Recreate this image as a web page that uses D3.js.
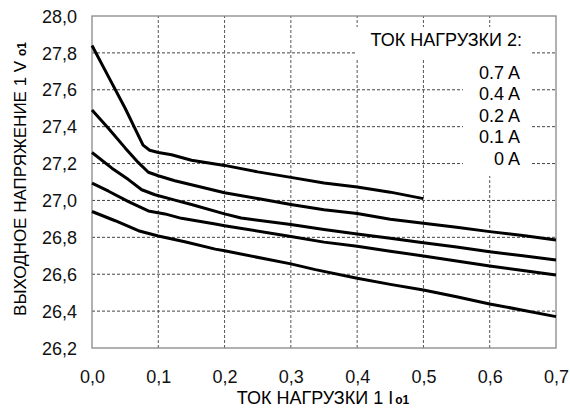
<!DOCTYPE html>
<html>
<head>
<meta charset="utf-8">
<script src="https://cdn.jsdelivr.net/npm/d3@7"></script>
<style>
  body { margin: 0; background: #fff; }
  svg { font-family: "Liberation Sans", Arial, sans-serif; }
</style>
</head>
<body>
<div id="chart"></div>
<script>
// load current 1 (A) vs output voltage (V), one curve per load current 2
var curve07 = [[0,27.84],[0.025,27.67],[0.05,27.5],[0.077,27.3],[0.087,27.272],[0.1,27.26],[0.12,27.248],[0.15,27.218],[0.2,27.19],[0.25,27.155],[0.3,27.125],[0.35,27.095],[0.4,27.073],[0.45,27.045],[0.5,27.01]];
var curve04 = [[0,27.49],[0.025,27.39],[0.05,27.285],[0.07,27.205],[0.085,27.153],[0.1,27.134],[0.125,27.107],[0.15,27.085],[0.2,27.042],[0.25,27.01],[0.3,26.978],[0.35,26.95],[0.4,26.929],[0.45,26.898],[0.5,26.876],[0.55,26.855],[0.6,26.831],[0.65,26.81],[0.7,26.786]];
var curve02 = [[0,27.26],[0.03,27.175],[0.055,27.113],[0.075,27.058],[0.095,27.031],[0.125,27.002],[0.15,26.978],[0.2,26.927],[0.225,26.905],[0.3,26.869],[0.35,26.842],[0.4,26.818],[0.45,26.795],[0.5,26.771],[0.55,26.747],[0.6,26.722],[0.65,26.7],[0.7,26.677]];
var curve01 = [[0,27.094],[0.025,27.05],[0.055,26.994],[0.085,26.943],[0.11,26.927],[0.135,26.903],[0.186,26.872],[0.2,26.863],[0.3,26.805],[0.35,26.774],[0.4,26.752],[0.45,26.725],[0.5,26.699],[0.55,26.672],[0.6,26.645],[0.65,26.62],[0.7,26.596]];
var curve00 = [[0,26.94],[0.035,26.89],[0.07,26.836],[0.1,26.807],[0.14,26.776],[0.186,26.736],[0.2,26.727],[0.3,26.656],[0.337,26.625],[0.4,26.578],[0.45,26.545],[0.5,26.514],[0.55,26.478],[0.6,26.439],[0.65,26.405],[0.7,26.37]];

var legendLabels = ["0.7 A", "0.4 A", "0.2 A", "0.1 A", "0 A"];
var xTicks = [0, 0.1, 0.2, 0.3, 0.4, 0.5, 0.6, 0.7];
var yTicks = [26.2, 26.4, 26.6, 26.8, 27.0, 27.2, 27.4, 27.6, 27.8, 28.0];

var width = 570, height = 410;
var margin = { top: 16, right: 14, bottom: 62, left: 92 };

var svg = d3.select("#chart").append("svg")
  .attr("width", width)
  .attr("height", height);

var x = d3.scaleLinear().domain([0, 0.7]).range([margin.left, width - margin.right]);
var y = d3.scaleLinear().domain([26.2, 28.0]).range([height - margin.bottom, margin.top]);

var comma = function (d) { return d3.format(".1f")(d).replace(".", ","); };

// grid
svg.append("g")
  .selectAll("line")
  .data(yTicks.slice(1, -1))
  .enter().append("line")
  .attr("x1", x(0)).attr("x2", x(0.7))
  .attr("y1", function (d) { return y(d); })
  .attr("y2", function (d) { return y(d); })
  .attr("stroke", "#444")
  .attr("stroke-dasharray", "3,2");

svg.append("g")
  .selectAll("line")
  .data(xTicks.slice(1, -1))
  .enter().append("line")
  .attr("y1", y(26.2)).attr("y2", y(28))
  .attr("x1", function (d) { return x(d); })
  .attr("x2", function (d) { return x(d); })
  .attr("stroke", "#555")
  .attr("stroke-dasharray", "3,2");

// legend boxes hide the grid behind the text
svg.append("rect").attr("x", 355).attr("y", 27).attr("width", 176).attr("height", 33).attr("fill", "#fff");
svg.append("rect").attr("x", 463).attr("y", 58).attr("width", 68).attr("height", 118).attr("fill", "#fff");

// frame
svg.append("rect")
  .attr("x", x(0)).attr("y", y(28))
  .attr("width", x(0.7) - x(0))
  .attr("height", y(26.2) - y(28))
  .attr("fill", "none")
  .attr("stroke", "#888")
  .attr("stroke-width", 1.3);

// axes
var yAxis = svg.append("g")
  .attr("transform", "translate(" + x(0) + ",0)")
  .call(d3.axisLeft(y).tickValues(yTicks).tickSize(0).tickPadding(15).tickFormat(comma));
var xAxis = svg.append("g")
  .attr("transform", "translate(0," + y(26.2) + ")")
  .call(d3.axisBottom(x).tickValues(xTicks).tickSize(0).tickFormat(comma));

[yAxis, xAxis].forEach(function (a) {
  a.select(".domain").remove();
  a.selectAll("text")
    .attr("font-family", "Liberation Sans, Arial, sans-serif")
    .attr("font-size", 18)
    .attr("fill", "#111");
});
yAxis.selectAll("text").attr("dy", "0.34em");
xAxis.selectAll("text").attr("dy", 0).attr("y", 35);

// curves
var line = d3.line()
  .x(function (d) { return x(d[0]); })
  .y(function (d) { return y(d[1]); });

svg.append("g")
  .selectAll("path")
  .data([curve07, curve04, curve02, curve01, curve00])
  .enter().append("path")
  .attr("d", line)
  .attr("fill", "none")
  .attr("stroke", "#000")
  .attr("stroke-width", 3)
  .attr("stroke-linejoin", "round");

// legend text
svg.append("text")
  .attr("x", 522).attr("y", 45.5)
  .attr("text-anchor", "end")
  .attr("font-size", 18)
  .text("ТОК НАГРУЗКИ 2:");

svg.append("g")
  .selectAll("text")
  .data(legendLabels)
  .enter().append("text")
  .attr("x", 520)
  .attr("y", function (d, i) { return 78.5 + i * 21.5; })
  .attr("text-anchor", "end")
  .attr("font-size", 18)
  .text(function (d) { return d; });

// axis titles
var xt = svg.append("text")
  .attr("x", 323).attr("y", 404)
  .attr("text-anchor", "middle")
  .attr("font-size", 18)
  .text("ТОК НАГРУЗКИ 1 I");
xt.append("tspan").attr("font-size", 12).attr("font-weight", "bold").attr("dx", 2).text("о1");

var yt = svg.append("text")
  .attr("transform", "translate(26,179) rotate(-90)")
  .attr("text-anchor", "middle")
  .attr("font-size", 17)
  .text("ВЫХОДНОЕ НАПРЯЖЕНИЕ 1 V ");
yt.append("tspan").attr("font-size", 12).attr("font-weight", "bold").text("о1");
</script>
</body>
</html>
